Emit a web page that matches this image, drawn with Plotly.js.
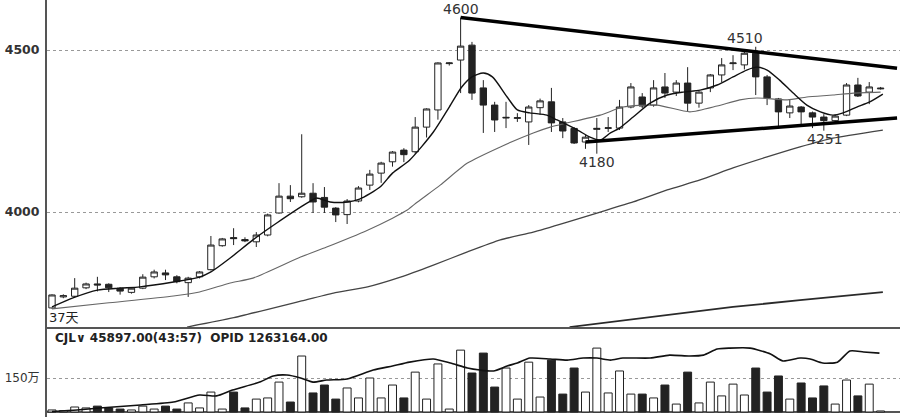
<!DOCTYPE html>
<html><head><meta charset="utf-8">
<script src="https://cdn.plot.ly/plotly-3.0.1.min.js"></script>
<style>html,body{margin:0;padding:0;background:#fff;}#chart{width:900px;height:417px;}</style>
</head><body><div id="chart"></div>
<script>
// ---- data ----
const openP  = [3704,3738,3740,3766,3778,3777,3765,3752,3765,3800,3812,3800,3782,3800,3822,3896,3921,3915,3908,3929,3997,4049,4047,4058,4045,4012,3992,4034,4083,4120,4155,4191,4186,4262,4315,4458,4469,4515,4383,4330,4290,4289,4278,4322,4340,4278,4258,4216,4255,4258,4259,4324,4355,4330,4386,4370,4398,4336,4383,4423,4458,4454,4490,4417,4349,4306,4324,4306,4293,4282,4299,4392,4370,4380];
const highP  = [3746,3746,3796,3782,3800,3780,3768,3768,3808,3822,3822,3805,3800,3818,3926,3920,3950,3922,3938,3995,4089,4083,4240,4089,4077,4015,4040,4080,4130,4155,4188,4197,4293,4320,4462,4462,4600,4525,4407,4340,4340,4305,4330,4350,4383,4290,4262,4238,4290,4293,4346,4398,4367,4407,4429,4407,4447,4373,4426,4475,4484,4500,4510,4423,4352,4346,4327,4310,4302,4300,4398,4414,4401,4386];
const lowP   = [3702,3734,3736,3762,3755,3753,3745,3748,3762,3795,3790,3780,3738,3795,3820,3893,3898,3907,3892,3925,3995,4031,4044,3997,3997,3969,3963,4030,4068,4090,4140,4154,4180,4230,4285,4452,4367,4346,4244,4247,4259,4278,4207,4300,4247,4228,4210,4195,4180,4247,4253,4320,4321,4325,4352,4358,4309,4322,4370,4401,4438,4440,4361,4330,4265,4290,4268,4259,4251,4275,4296,4355,4333,4378];
const closeP = [3744,3742,3765,3778,3775,3766,3756,3765,3799,3815,3806,3785,3796,3815,3898,3917,3918,3911,3929,3991,4049,4041,4058,4031,4015,3991,4034,4074,4117,4151,4185,4177,4262,4318,4460,4460,4512,4367,4330,4284,4292,4291,4324,4343,4275,4250,4213,4231,4258,4260,4324,4386,4327,4383,4367,4398,4336,4370,4423,4454,4460,4490,4417,4352,4309,4327,4309,4293,4282,4296,4392,4358,4386,4382];
const volume = [9,6,22,18,26,18,13,9,26,13,26,13,40,18,88,13,88,18,57,62,132,44,247,84,119,57,106,62,150,62,119,62,176,57,212,13,273,172,260,110,194,57,220,66,229,79,194,88,282,84,181,79,79,62,119,35,176,40,132,71,123,75,194,88,159,57,128,62,115,35,141,71,123,4.6];

const ma5X  = [0,1.85,4,6,7.75,10.7,13,14,15.7,17.7,19.8,22.5,23.3,24.5,26,27.1,28.9,30,31.5,33.6,35,36.1,37,38,38.8,40.1,41,42.1,43.6,44.5,46.3,47.4,48.3,49.2,50,51.2,52.7,54.2,55.6,57.1,58.6,60,61.2,62.1,63,64.1,65.3,66.5,67.7,68.8,69.7,70.9,72,73.2];
const ma5Y  = [3707,3735,3759,3765,3769,3784,3799,3815,3858,3914,3966,4028,4043,4031,4031,4040,4077,4120,4160,4247,4324,4386,4417,4429,4417,4355,4315,4306,4299,4284,4253,4231,4222,4244,4259,4293,4336,4361,4370,4376,4392,4417,4438,4447,4438,4407,4367,4330,4309,4299,4306,4324,4339,4364];
const ma20X = [0,4.8,10.7,13,15.7,17.7,21.9,24.2,27.8,30,31.3,32.2,34.2,36.6,39.5,42.4,43.9,48.3,50.3,53.3,56.2,58.6,60.6,62.1,64.8,66.5,68.8,70.6,73];
const ma20Y = [3701,3719,3741,3753,3781,3796,3861,3892,3944,3981,4006,4031,4083,4151,4201,4244,4262,4299,4324,4330,4309,4327,4346,4352,4346,4355,4361,4367,4370];
const ma60X = [11.9,15.9,21.9,24.8,27.8,30.7,33.6,36.6,39.5,42.4,45.4,48.3,51.2,54.2,57.1,60,63,65.9,68.8,73.2];
const ma60Y = [3645,3673,3725,3750,3769,3799,3836,3877,3914,3938,3969,4000,4031,4068,4099,4136,4170,4201,4228,4253];
const ma120X = [45.6,48.3,54.2,60,65.9,73.2];
const ma120Y = [3645,3657,3682,3707,3728,3753];

const volMaX = [0,2.2,4.2,7.8,10.7,13,14.5,15.9,18.3,19.5,20.7,21.9,23,24.2,26,28.3,30,31.5,33.6,35.1,36.6,37.7,38.9,40.1,41,42.1,43.9,45.4,46.8,48,49.2,50.3,52.7,54.4,56.2,57.4,58.6,59.7,61.5,63.3,64.4,65.9,66.8,67.9,69.2,70.3,71.5,72.9];
const volMaY = [2,9,18,31,44,75,71,97,132,159,163,150,132,141,146,185,203,220,234,216,194,185,181,203,216,238,234,229,238,238,229,238,238,251,247,251,278,282,282,256,225,238,234,216,220,269,265,260];

const upperTrendX = [36, 74.45];
const upperTrendY = [4600, 4444];
const lowerTrendX = [47, 74.45];
const lowerTrendY = [4216, 4290];

const peakIdx   = [36, 61.06, 48, 68.1];
const peakPrice = [4626, 4537, 4154, 4225];
const peakText  = ['4600', '4510', '4180', '4251'];

const priceTicks = [4000, 4500];
const volTicks = [150];
const volTickText = ['150万'];
const daysLabel = '37天';
const volInfo = 'CJL\u2228 45897.00(43:57)  OPID 1263164.00';

// ---- build ----
const idx = openP.map((_, i) => i);
const dark = '#222';
const barFill = idx.map(i => closeP[i] >= openP[i] ? '#ffffff' : dark);

const traces = [
  {type:'candlestick', x: idx, open: openP, high: highP, low: lowP, close: closeP,
   increasing:{line:{color:dark,width:1}, fillcolor:'#ffffff'},
   decreasing:{line:{color:dark,width:1}, fillcolor:dark},
   whiskerwidth:0, hoverinfo:'skip', showlegend:false, xaxis:'x', yaxis:'y'},
  {type:'scatter', mode:'lines', x: ma120X, y: ma120Y, line:{color:'#2a2a2a',width:1.8}, hoverinfo:'skip', showlegend:false},
  {type:'scatter', mode:'lines', x: ma60X, y: ma60Y, line:{color:'#444',width:1.3, shape:'spline', smoothing:0.5}, hoverinfo:'skip', showlegend:false},
  {type:'scatter', mode:'lines', x: ma20X, y: ma20Y, line:{color:'#666',width:1.1, shape:'spline', smoothing:0.6}, hoverinfo:'skip', showlegend:false},
  {type:'scatter', mode:'lines', x: ma5X, y: ma5Y, line:{color:'#111',width:1.4, shape:'spline', smoothing:0.7}, hoverinfo:'skip', showlegend:false},
  {type:'scatter', mode:'lines', x: upperTrendX, y: upperTrendY, line:{color:'#000',width:3.5}, hoverinfo:'skip', showlegend:false},
  {type:'scatter', mode:'lines', x: lowerTrendX, y: lowerTrendY, line:{color:'#000',width:3.5}, hoverinfo:'skip', showlegend:false},
  {type:'bar', x: idx, y: volume, marker:{color: barFill, line:{color:dark,width:1}}, xaxis:'x', yaxis:'y2', hoverinfo:'skip', showlegend:false},
  {type:'scatter', mode:'lines', x: volMaX, y: volMaY, xaxis:'x', yaxis:'y2', line:{color:'#111',width:1.6, shape:'spline', smoothing:0.6}, hoverinfo:'skip', showlegend:false}
];

const annFont = {family:'DejaVu Sans, Noto Sans CJK SC', size:14, color:'#333'};
const annotations = peakText.map((t, k) => ({
  x: peakIdx[k], y: peakPrice[k], xref:'x', yref:'y', text: t, showarrow:false,
  xanchor:'center', yanchor:'middle', font: annFont
}));
annotations.push({x: -0.4, y: 3673, xref:'x', yref:'y', text: daysLabel, showarrow:false,
  xanchor:'left', yanchor:'middle', font:{family:'DejaVu Sans, Noto Sans CJK SC', size:13, color:'#222'}});
annotations.push({x: 0.007, y: 0.1894, xref:'paper', yref:'paper', text: volInfo, showarrow:false,
  xanchor:'left', yanchor:'middle', font:{family:'DejaVu Sans', size:12, color:'#222', weight:'bold'}});

const layout = {
  width: 900, height: 417,
  margin:{l:47, r:0, t:0, b:0, pad:0},
  paper_bgcolor:'#fff', plot_bgcolor:'#fff',
  showlegend:false, boxgap:0.2, bargap:0.3,
  xaxis:{range:[-0.44, 74.71], showgrid:false, zeroline:false, showticklabels:false, ticks:'',
         showline:true, linecolor:'#555', linewidth:2, anchor:'y', rangeslider:{visible:false}, fixedrange:true},
  yaxis:{domain:[0.2158, 1], range:[3645.1, 4654.3], tickvals: priceTicks,
         ticktext: priceTicks.map(v => '<b>' + v + '</b>'),
         tickfont:{family:'DejaVu Sans', size:12.5, color:'#333'}, ticks:'', ticklabelstandoff:3,
         showgrid:true, gridcolor:'#999', griddash:'3px,3px', gridwidth:1, zeroline:false,
         showline:true, linecolor:'#555', linewidth:2, anchor:'x', fixedrange:true},
  yaxis2:{domain:[0, 0.211], range:[-22.06, 366.2], tickvals: volTicks, ticktext: volTickText,
          tickfont:{family:'DejaVu Sans, Noto Sans CJK SC', size:12, color:'#333'}, ticks:'', ticklabelstandoff:3,
          showgrid:true, gridcolor:'#999', griddash:'3px,3px', gridwidth:1,
          zeroline:true, zerolinecolor:'#555', zerolinewidth:1.5,
          showline:true, linecolor:'#555', linewidth:2, anchor:'x', fixedrange:true},
  annotations: annotations
};

Plotly.newPlot('chart', traces, layout, {staticPlot:true, displayModeBar:false});
</script>
</body></html>
